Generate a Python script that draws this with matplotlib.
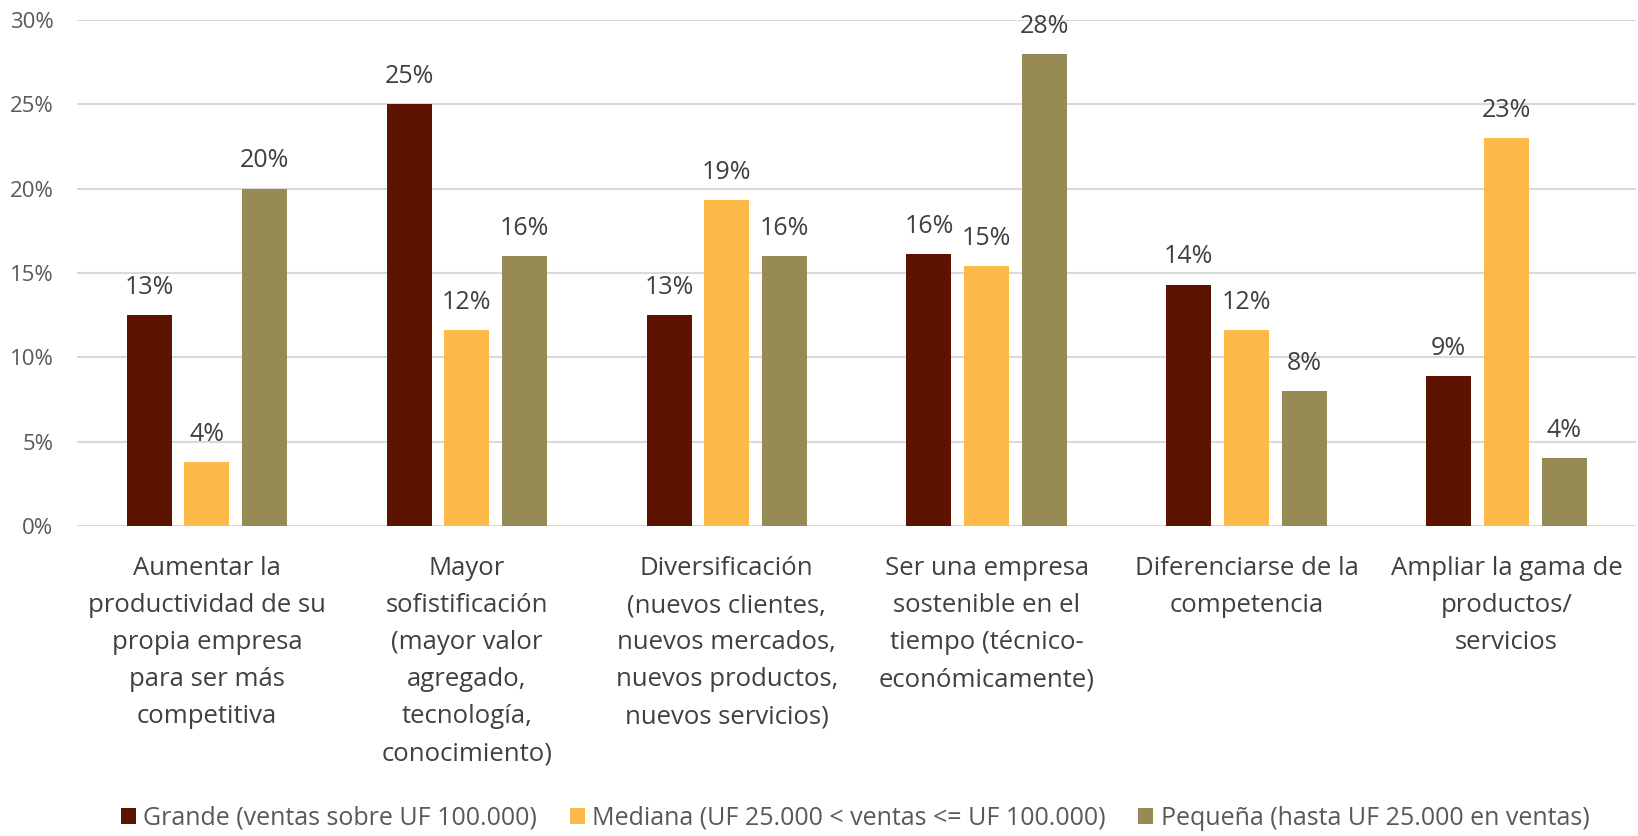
import numpy as np
import matplotlib.pyplot as plt

categorias = [
    "Aumentar la\nproductividad de su\npropia empresa\npara ser más\ncompetitiva",
    "Mayor\nsofistificación\n(mayor valor\nagregado,\ntecnología,\nconocimiento)",
    "Diversificación\n(nuevos clientes,\nnuevos mercados,\nnuevos productos,\nnuevos servicios)",
    "Ser una empresa\nsostenible en el\ntiempo (técnico-\neconómicamente)",
    "Diferenciarse de la\ncompetencia",
    "Ampliar la gama de\nproductos/\nservicios",
]
grande = [12.5, 25.0, 12.5, 16.1, 14.3, 8.9]
mediana = [3.8, 11.6, 19.3, 15.4, 11.6, 23.0]
pequena = [20.0, 16.0, 16.0, 28.0, 8.0, 4.0]
etiquetas = [
    ["13%", "25%", "13%", "16%", "14%", "9%"],
    ["4%", "12%", "19%", "15%", "12%", "23%"],
    ["20%", "16%", "16%", "28%", "8%", "4%"],
]
series = [
    ("Grande (ventas sobre UF 100.000)", grande, "#5C1400"),
    ("Mediana (UF 25.000 < ventas <= UF 100.000)", mediana, "#FDBA48"),
    ("Pequeña (hasta UF 25.000 en ventas)", pequena, "#968B54"),
]

plt.rcParams['font.family'] = ['Open Sans', 'DejaVu Sans']

fig = plt.figure(figsize=(16.38, 8.36), dpi=100)
ax = fig.add_axes([0.047, 0.371, 0.952, 0.605])

x = np.arange(len(categorias))
ancho = 0.173
paso = 0.222
for i, (nombre, vals, color) in enumerate(series):
    pos = x + (i - 1) * paso
    ax.bar(pos, vals, width=ancho, color=color, label=nombre, zorder=3)
    for px, v, t in zip(pos, vals, etiquetas[i]):
        ax.annotate(t, (px, v), xytext=(0, 11), textcoords='offset points',
                    ha='center', va='bottom', fontsize=18, color='#404040')

ax.set_xlim(-0.5, len(categorias) - 0.5)
ax.set_ylim(0, 30)
ax.set_yticks(np.arange(0, 31, 5))
ax.set_yticklabels([f"{v}%" for v in range(0, 31, 5)], fontsize=16, color='#595959')
ax.set_xticks(x)
ax.set_xticklabels(categorias, fontsize=18.5, color='#404040', linespacing=1.63)
ax.tick_params(axis='both', length=0)
ax.tick_params(axis='x', pad=22)
ax.tick_params(axis='y', pad=17)
ax.yaxis.grid(True, color='#D9D9D9', linewidth=1.5, zorder=0)
for s in ax.spines.values():
    s.set_visible(False)

fig.legend(loc='center', bbox_to_anchor=(0.522, 0.0215), ncol=3, frameon=False,
           fontsize=18, labelcolor='#595959', handlelength=0.6, handleheight=0.6,
           handletextpad=0.3, columnspacing=1.3)

fig.savefig('out.png', dpi=100)
